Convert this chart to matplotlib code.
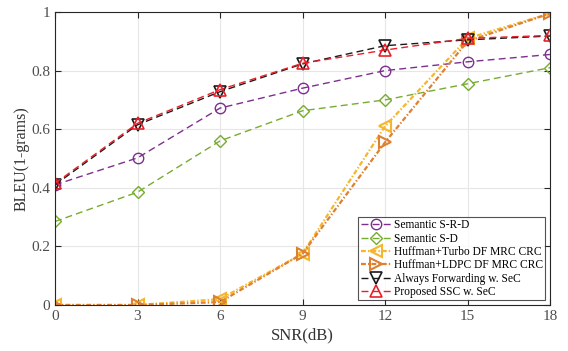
import matplotlib
matplotlib.use('Agg')
import matplotlib.pyplot as plt

snr = [0, 3, 6, 9, 12, 15, 18]

sem_srd   = [0.410, 0.502, 0.672, 0.740, 0.800, 0.830, 0.855]
sem_sd    = [0.285, 0.385, 0.560, 0.663, 0.700, 0.755, 0.810]
turbo     = [0.000, 0.000, 0.020, 0.175, 0.610, 0.910, 0.995]
ldpc      = [0.000, 0.000, 0.010, 0.175, 0.555, 0.900, 0.995]
always_fw = [0.410, 0.615, 0.728, 0.823, 0.885, 0.905, 0.918]
proposed  = [0.415, 0.620, 0.735, 0.825, 0.870, 0.910, 0.920]

labels = ['Semantic S-R-D', 'Semantic S-D', 'Huffman+Turbo DF MRC CRC',
          'Huffman+LDPC DF MRC CRC', 'Always Forwarding w. SeC', 'Proposed SSC w. SeC']

plt.rcParams['font.family'] = ['Liberation Serif', 'DejaVu Serif']
plt.rcParams['lines.scale_dashes'] = False

DASH = (0, (5, 3))
DASHDOT = (0, (3.5, 1.5, 1, 1.5))

fig = plt.figure(figsize=(5.68, 3.51), dpi=100)
ax = fig.add_axes([55/568, 1 - 305/351, 495/568, 293/351])

ax.plot(snr, sem_srd, ls=DASH, color='#7E2F8E', lw=1.0, marker='o', ms=7.5, mfc='none', mew=1.0, label=labels[0])
ax.plot(snr, sem_sd, ls=DASH, color='#77AC30', lw=1.0, marker='D', ms=6.5, mfc='none', mew=1.0, label=labels[1])
ax.plot(snr, turbo, ls=DASHDOT, color='#F7B52C', lw=1.6, marker='<', ms=8.5, mfc='none', mew=1.5, label=labels[2])
ax.plot(snr, ldpc, ls=DASHDOT, color='#DD8030', lw=1.6, marker='>', ms=8.5, mfc='none', mew=1.5, label=labels[3])
ax.plot(snr, always_fw, ls=DASH, color='#1a1a1a', lw=1.0, marker='v', ms=8.5, mfc='none', mew=1.2, label=labels[4])
ax.plot(snr, proposed, ls=DASH, color='#E8202A', lw=1.0, marker='^', ms=8.5, mfc='none', mew=1.2, label=labels[5])

ax.set_xlim(0, 18)
ax.set_ylim(0, 1)
ax.set_xticks(snr)
ax.set_yticks([0, 0.2, 0.4, 0.6, 0.8, 1])
ax.set_yticklabels(['0', '0.2', '0.4', '0.6', '0.8', '1'])
ax.grid(True, color='#e6e6e6', lw=0.8)
ax.set_axisbelow(True)
ax.tick_params(direction='in', top=True, right=True, length=4, labelsize=11,
               colors='#262626', labelcolor='#4d4d4d')
for s in ax.spines.values():
    s.set_color('#262626')
    s.set_linewidth(0.8)

ax.set_xlabel('SNR(dB)', fontsize=12, color='#333333', labelpad=3)
ax.set_ylabel('BLEU(1-grams)', fontsize=11.5, color='#333333', labelpad=1)

leg = ax.legend(loc='lower right', fontsize=8.3, frameon=True, fancybox=False,
                edgecolor='#262626', handlelength=2.6, handletextpad=0.3,
                labelspacing=0.12, borderpad=0.2, borderaxespad=0.4)
leg.get_frame().set_linewidth(0.8)

fig.savefig('out.png', dpi=100)
